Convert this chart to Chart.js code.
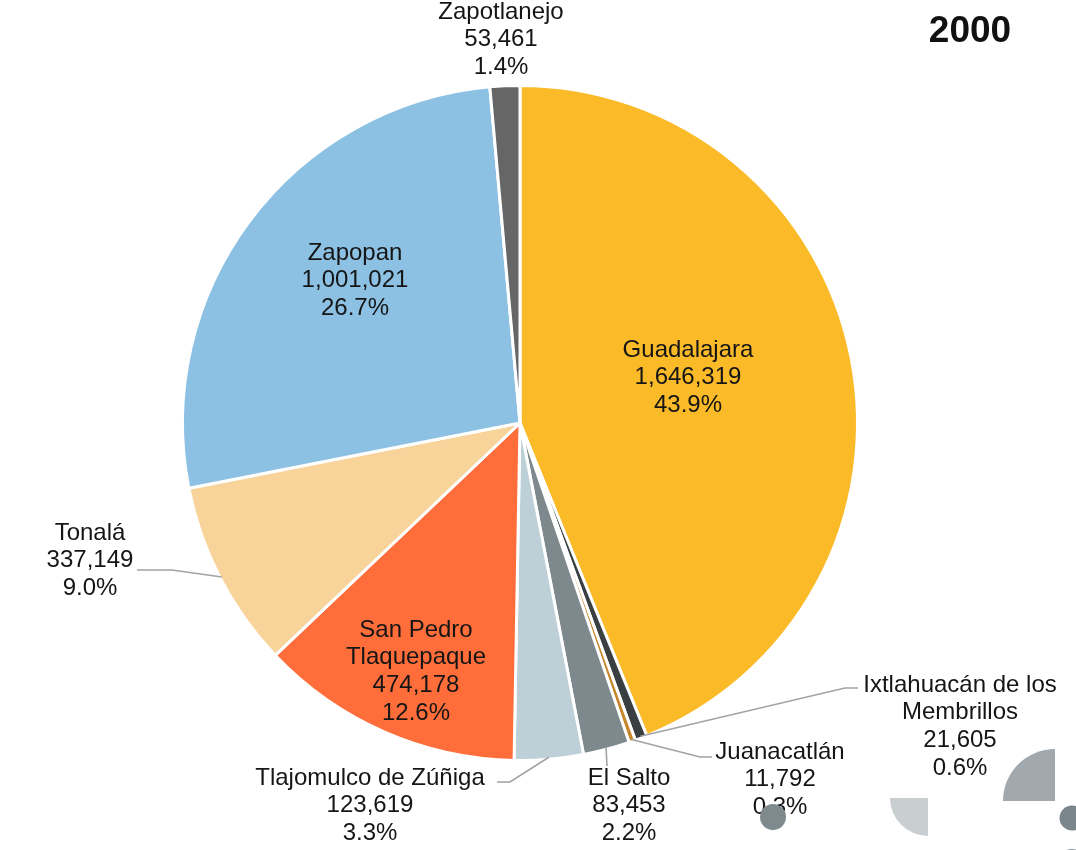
<!DOCTYPE html>
<html>
<head>
<meta charset="utf-8">
<script src="https://cdn.jsdelivr.net/npm/chart.js@4/dist/chart.umd.min.js"></script>
<style>
  html, body { margin: 0; padding: 0; background: #fff; }
  #wrap { width: 1076px; height: 850px; position: relative; }
</style>
</head>
<body>
<div id="wrap"><canvas id="pieChart"></canvas></div>
<script>
// ========================
//    data
// ========================
const municipios = [
  "Guadalajara",
  "Ixtlahuacán de los Membrillos",
  "Juanacatlán",
  "El Salto",
  "Tlajomulco de Zúñiga",
  "San Pedro Tlaquepaque",
  "Tonalá",
  "Zapopan",
  "Zapotlanejo"
];
const poblacion = [1646319, 21605, 11792, 83453, 123619, 474178, 337149, 1001021, 53461];
const porcentajes = ["43.9%", "0.6%", "0.3%", "2.2%", "3.3%", "12.6%", "9.0%", "26.7%", "1.4%"];
// how each name is broken into lines on the chart
const nameLines = [
  ["Guadalajara"],
  ["Ixtlahuacán de los", "Membrillos"],
  ["Juanacatlán"],
  ["El Salto"],
  ["Tlajomulco de Zúñiga"],
  ["San Pedro", "Tlaquepaque"],
  ["Tonalá"],
  ["Zapopan"],
  ["Zapotlanejo"]
];
const anio = "2000";

// ========================
//    styles
// ========================
const sliceColors = ["#FBBA28", "#3A3F42", "#C8862A", "#7E898E", "#BDCFD7", "#FF6E3A", "#F8D49A", "#8DC1E4", "#666666"];

// label placement: x,y = centre of the first text line; leader = elbow points
const labelLayout = [
  { x: 688, y: 350 },
  { x: 960, y: 685, leader: [[845, 688], [858, 688]] },
  { x: 780, y: 752, leader: [[700, 757], [712, 757]] },
  { x: 629, y: 778, leader: [[607, 766]] },
  { x: 370, y: 778, leader: [[510, 782], [497, 782]] },
  { x: 416, y: 630 },
  { x: 90,  y: 533, leader: [[172, 570], [137, 570]] },
  { x: 355, y: 253 },
  { x: 501, y: 12 }
];
const LINE_H = 27.7;
const FONT = '24px "Liberation Sans", Arial, sans-serif';

// labels + leader lines
const labelPlugin = {
  id: "pieLabels",
  afterDatasetsDraw(chart) {
    const ctx = chart.ctx;
    const arcs = chart.getDatasetMeta(0).data;
    ctx.save();
    arcs.forEach((arc, i) => {
      const lay = labelLayout[i];
      if (lay.leader) {
        const mid = (arc.startAngle + arc.endAngle) / 2;
        const r = arc.outerRadius - 2;
        ctx.beginPath();
        ctx.moveTo(arc.x + Math.cos(mid) * r, arc.y + Math.sin(mid) * r);
        lay.leader.forEach(p => ctx.lineTo(p[0], p[1]));
        ctx.strokeStyle = "#A3A3A3";
        ctx.lineWidth = 1.6;
        ctx.stroke();
      }
      const lines = nameLines[i].concat([poblacion[i].toLocaleString("en-US"), porcentajes[i]]);
      ctx.font = FONT;
      ctx.fillStyle = "#151515";
      ctx.textAlign = "center";
      ctx.textBaseline = "middle";
      lines.forEach((t, k) => ctx.fillText(t, lay.x, lay.y + k * LINE_H));
    });
    ctx.restore();
  }
};

// year + decorative shapes
const decoPlugin = {
  id: "deco",
  afterDraw(chart) {
    const ctx = chart.ctx;
    ctx.save();
    ctx.font = 'bold 37px "Liberation Sans", Arial, sans-serif';
    ctx.fillStyle = "#111";
    ctx.textAlign = "center";
    ctx.textBaseline = "middle";
    ctx.fillText(anio, 970, 32);

    const quarter = (cx, cy, r, a0, a1, col) => {
      ctx.beginPath();
      ctx.moveTo(cx, cy);
      ctx.arc(cx, cy, r, a0, a1);
      ctx.closePath();
      ctx.fillStyle = col;
      ctx.fill();
    };
    const dot = (cx, cy, r, col) => {
      ctx.beginPath();
      ctx.arc(cx, cy, r, 0, Math.PI * 2);
      ctx.fillStyle = col;
      ctx.fill();
    };
    quarter(1055, 801, 52, Math.PI, Math.PI * 1.5, "#A1A9AE");
    quarter(928, 798, 38, Math.PI / 2, Math.PI, "#C9CED1");
    dot(773, 817, 13, "#7F8A8F");
    dot(1072, 818, 12.5, "#7B868C");
    dot(1072, 862, 13, "#8A9398");
    ctx.restore();
  }
};

new Chart(document.getElementById("pieChart"), {
  type: "pie",
  data: {
    labels: municipios,
    datasets: [{
      data: poblacion,
      backgroundColor: sliceColors,
      borderColor: "#FFFFFF",
      borderWidth: 3
    }]
  },
  options: {
    responsive: true,
    maintainAspectRatio: false,
    animation: false,
    layout: { padding: { left: 181, right: 217, top: 84, bottom: 88 } },
    plugins: {
      legend: { display: false },
      tooltip: { enabled: false }
    }
  },
  plugins: [labelPlugin, decoPlugin]
});
</script>
</body>
</html>
